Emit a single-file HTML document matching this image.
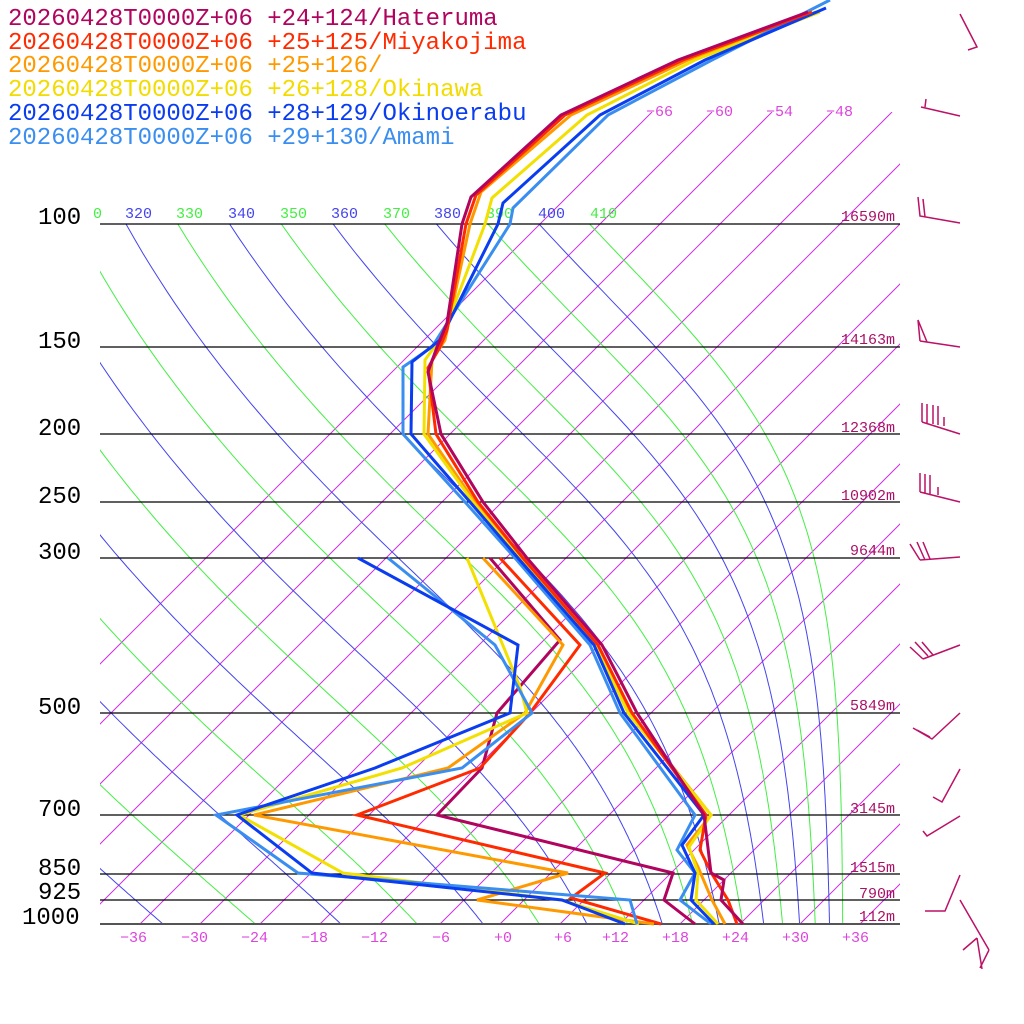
<!DOCTYPE html>
<html><head><meta charset="utf-8"><style>html,body{margin:0;padding:0;background:#fff}svg{display:block}</style></head>
<body>
<svg id="s" width="1024" height="1024" viewBox="0 0 1024 1024" xmlns="http://www.w3.org/2000/svg">
<defs><clipPath id="cIso"><rect x="100" y="112" width="800" height="812"/></clipPath>
<clipPath id="cAd"><rect x="100" y="224" width="800" height="700"/></clipPath></defs>
<g id="iso" clip-path="url(#cIso)" stroke="#cc33dd" stroke-width="1" fill="none"></g>
<g id="ad" clip-path="url(#cAd)" fill="none" stroke-width="1"></g>
<g stroke="#000" stroke-width="1.2">
<line x1="100" y1="224" x2="900" y2="224"/><line x1="100" y1="347" x2="900" y2="347"/>
<line x1="100" y1="434" x2="900" y2="434"/><line x1="100" y1="502" x2="900" y2="502"/>
<line x1="100" y1="558" x2="900" y2="558"/><line x1="100" y1="713" x2="900" y2="713"/>
<line x1="100" y1="815" x2="900" y2="815"/><line x1="100" y1="874" x2="900" y2="874"/>
<line x1="100" y1="900" x2="900" y2="900"/></g>
<line x1="100" y1="924" x2="900" y2="924" stroke="#555" stroke-width="2"/>
<g font-family="Liberation Mono, monospace" font-size="24" fill="#000">
<text x="38" y="224">100</text><text x="38" y="348">150</text><text x="38" y="435">200</text>
<text x="38" y="503">250</text><text x="38" y="559">300</text><text x="38" y="714">500</text>
<text x="38" y="816">700</text><text x="38" y="875">850</text><text x="38" y="899">925</text><text x="22" y="924">1000</text></g>
<g font-family="Liberation Mono, monospace" font-size="15" fill="#aa1166" text-anchor="end">
<text x="895" y="221">16590m</text><text x="895" y="344">14163m</text><text x="895" y="432">12368m</text>
<text x="895" y="500">10902m</text><text x="895" y="555">9644m</text><text x="895" y="710">5849m</text>
<text x="895" y="813">3145m</text><text x="895" y="872">1515m</text><text x="895" y="898">790m</text><text x="895" y="921">112m</text></g>
<g font-family="Liberation Mono, monospace" font-size="15" fill="#dd44dd">
<text x="120" y="942">−36</text><text x="181" y="942">−30</text><text x="241" y="942">−24</text><text x="301" y="942">−18</text>
<text x="361" y="942">−12</text><text x="432" y="942">−6</text><text x="494" y="942">+0</text><text x="554" y="942">+6</text>
<text x="602" y="942">+12</text><text x="662" y="942">+18</text><text x="722" y="942">+24</text><text x="782" y="942">+30</text><text x="842" y="942">+36</text>
<text x="646" y="116">−66</text><text x="706" y="116">−60</text><text x="766" y="116">−54</text><text x="826" y="116">−48</text></g>
<g font-family="Liberation Mono, monospace" font-size="15">
<text x="93" y="218" fill="#44ee44">0</text>
<text x="125" y="218" fill="#4444ee">320</text><text x="176" y="218" fill="#44ee44">330</text>
<text x="228" y="218" fill="#4444ee">340</text><text x="280" y="218" fill="#44ee44">350</text>
<text x="331" y="218" fill="#4444ee">360</text><text x="383" y="218" fill="#44ee44">370</text>
<text x="434" y="218" fill="#4444ee">380</text><text x="486" y="218" fill="#44ee44">390</text>
<text x="538" y="218" fill="#4444ee">400</text><text x="590" y="218" fill="#44ee44">410</text></g>
<g id="snd" fill="none" stroke-width="3" stroke-linejoin="miter"></g>
<g stroke="#bb1166" stroke-width="1.5" fill="none">
<path d="M960,14L977,47L968,50"/>
<path d="M960,116L921,107M925,107L926,99"/>
<path d="M960,223L920,216L918,197M925,217L923,199"/>
<path d="M960,347L920,341M920,341L918,320L927,342"/>
<path d="M960,434L922,422M922,422L922,403M927,423L927,404M933,424L933,405M938,425L938,406M944,426L944,417"/>
<path d="M960,502L920,492M920,492L920,473M925,493L925,474M930,494L930,475M938,495L938,487"/>
<path d="M960,557L920,560M920,560L910,544M925,560L917,542M930,559L923,542"/>
<path d="M960,645L923,659M923,659L910,647M928,656L915,642M933,655L922,642"/>
<path d="M960,713L932,739L913,728M930,737L917,730"/>
<path d="M960,769L942,802L933,797"/>
<path d="M960,816L927,836L923,831"/>
<path d="M960,875L945,911L925,911"/>
<path d="M960,900L989,950M963,950L977,938M977,938L982,969M989,950L980,968"/>
</g>
<g font-family="Liberation Mono, monospace" font-size="24">
<text x="8" y="25" fill="#b0045e">20260428T0000Z+06 +24+124/Hateruma</text>
<text x="8" y="49" fill="#ff2a00">20260428T0000Z+06 +25+125/Miyakojima</text>
<text x="8" y="72" fill="#ff9900">20260428T0000Z+06 +25+126/</text>
<text x="8" y="96" fill="#f2dc00">20260428T0000Z+06 +26+128/Okinawa</text>
<text x="8" y="120" fill="#0a3cf0">20260428T0000Z+06 +28+129/Okinoerabu</text>
<text x="8" y="144" fill="#3a8ef0">20260428T0000Z+06 +29+130/Amami</text></g>
</svg>
<script>
var NS="http://www.w3.org/2000/svg";
function Y(p){return 924-304*Math.log(1000/p);}
function X(T,y){return 500+10*T+(924-y);}
var iso=document.getElementById('iso'),s='';
for(var T=-66;T<=45;T+=6){var y1=924,y2=112;s+='M'+X(T,y1)+','+y1+'L'+X(T,y2)+','+y2;}
var pe=document.createElementNS(NS,'path');pe.setAttribute('d',s);iso.appendChild(pe);
function es(Tc){return 6.112*Math.exp(17.67*Tc/(Tc+243.5));}
function the(Tk,p){var e=es(Tk-273.15);var r=0.622*e/Math.max(p-e,1);return Tk*Math.pow(1000/p,0.2857)*Math.exp(2.5e6*r/(1004*Tk));}
function solve(te,p){var lo=150,hi=330;for(var i=0;i<50;i++){var m=(lo+hi)/2;if(the(m,p)>te)hi=m;else lo=m;}return (lo+hi)/2-273.15;}
var ad=document.getElementById('ad');
for(var th=200;th<=410;th+=10){var d='';for(var p=100;p<=1000;p+=5){var y=Y(p);var x=X(solve(th,p),y);d+=(p==100?'M':'L')+x.toFixed(1)+','+y.toFixed(1);}
var q=document.createElementNS(NS,'path');q.setAttribute('d',d);q.setAttribute('stroke',(th/10)%2==0?'#4444ee':'#44ee44');ad.appendChild(q);}
var C={h:'#b0045e',r:'#ff2a00',o:'#ff9900',y:'#f2e000',b:'#0a3cf0',l:'#3a8ef0'};
var L=[
['o',[[816,12],[688,60],[571,115],[481,192],[470,224],[445,340],[432,360],[428,434],[475,502],[520,558],[597,645],[630,713],[711,815],[687,845],[698,867],[712,900],[725,924]]],
['y',[[820,12],[695,60],[587,115],[492,198],[485,224],[443,335],[425,360],[424,434],[473,502],[519,558],[596,645],[628,713],[711,815],[689,847],[698,873],[696,900],[718,924]]],
['l',[[830,0],[712,60],[608,115],[513,208],[510,224],[432,347],[403,367],[403,434],[465,502],[515,558],[590,645],[620,713],[695,815],[677,850],[695,873],[680,900],[711,924]]],
['b',[[826,8],[705,60],[600,115],[503,203],[498,224],[440,340],[412,362],[411,434],[470,502],[518,558],[594,645],[624,713],[704,815],[682,845],[695,873],[691,900],[714,924]]],
['r',[[812,12],[683,60],[565,115],[476,195],[466,224],[447,330],[440,347],[428,368],[436,434],[478,502],[523,558],[598,645],[632,713],[706,815],[700,850],[712,874],[728,900],[737,924]]],
['h',[[808,12],[678,60],[561,115],[471,197],[462,224],[447,323],[437,347],[428,372],[441,434],[483,502],[527,558],[602,645],[637,713],[704,815],[711,873],[724,880],[721,900],[743,924]]],
['h',[[490,558],[560,640],[497,713],[482,768],[437,815],[673,873],[664,900],[695,924]]],
['r',[[500,558],[580,645],[530,713],[480,768],[357,815],[605,873],[571,898],[661,924]]],
['o',[[483,558],[563,645],[525,713],[448,768],[254,815],[568,873],[477,900],[654,924]]],
['y',[[467,558],[520,687],[527,713],[402,768],[239,815],[343,873],[561,900],[639,924]]],
['l',[[388,558],[495,645],[532,713],[462,768],[216,815],[298,873],[630,900],[637,924]]],
['b',[[358,558],[518,645],[510,713],[375,768],[237,815],[312,873],[562,900],[625,924]]]
];
var g=document.getElementById('snd');
L.forEach(function(a){var q=document.createElementNS(NS,'polyline');q.setAttribute('points',a[1].map(function(p){return p.join(',')}).join(' '));q.setAttribute('stroke',C[a[0]]);g.appendChild(q);});
</script>
</body></html>
